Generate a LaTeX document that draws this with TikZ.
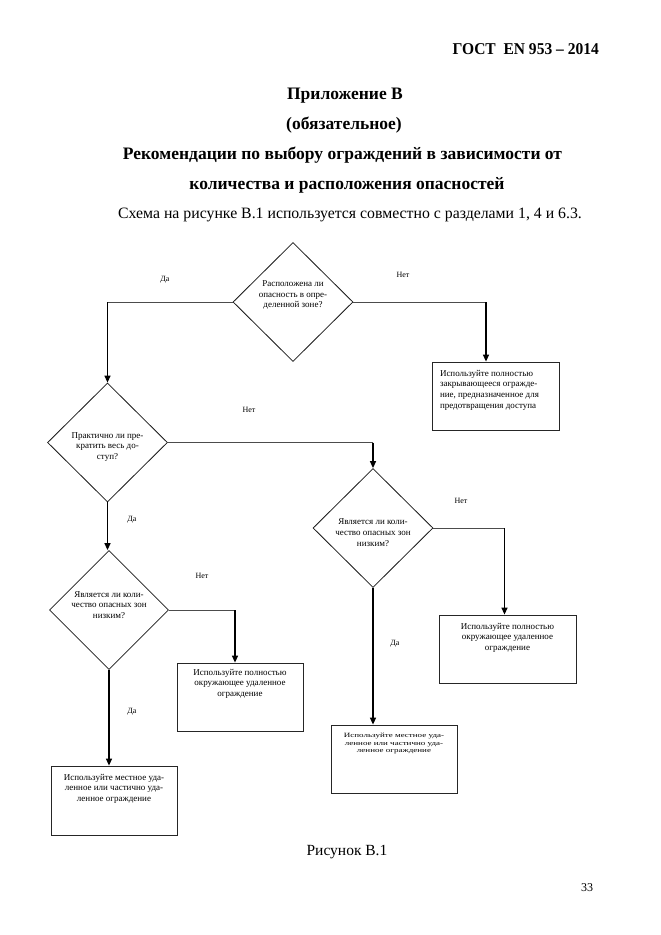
\documentclass[tikz,border=0pt]{standalone}
\usepackage{fontspec}
\usepackage{graphicx}
\setmainfont{Liberation Serif}
\usetikzlibrary{shapes.geometric,arrows.meta}
\newcommand{\dtxt}[3]{\parbox{80pt}{\centering\vspace*{#1}#3\par\vspace*{#2}}}
\begin{document}
\begin{tikzpicture}[x=1pt,y=-1pt,
  dia/.style={draw=black!90, line width=0.8pt, diamond, inner sep=-15pt,
    font=\fontsize{9}{10.7}\selectfont},
  box/.style={draw=black!85, line width=0.8pt, rectangle, inner sep=0pt,
    font=\fontsize{9}{10.7}\selectfont},
  hline/.style={draw=black!70, line width=0.9pt},
  vline/.style={draw=black, line width=1.3pt, -{Triangle[length=7pt,width=6pt]}},
  lbl/.style={font=\fontsize{8}{10}\selectfont, inner sep=0pt},
  ttl/.style={font=\fontsize{17.5}{20}\selectfont\bfseries, inner sep=0pt, anchor=base}]
\useasboundingbox (0,0) rectangle (661,935);
\fill[white] (0,0) rectangle (661,935);

% headings
\node[font=\fontsize{16.5}{20}\selectfont\bfseries, inner sep=0pt, anchor=base east] (hdr) at (599,54)
  {\scalebox{0.94}[1]{ГОСТ\ \ EN 953 -- 2014}};
\node[ttl] (t1) at (345,99) {Приложение В};
\node[ttl] (t2) at (344,129) {(обязательное)};
\node[ttl] (t3) at (342.5,159) {Рекомендации по выбору ограждений в зависимости от};
\node[ttl] (t4) at (347,189) {количества и расположения опасностей};
\node[font=\fontsize{15.8}{18}\selectfont, inner sep=0pt, anchor=base] (t5) at (350,218)
  {Схема на рисунке В.1 используется совместно с разделами 1, 4 и 6.3.};

% decisions
\node[dia, minimum width=120pt, minimum height=119pt] (d1) at (293,302)
  {\dtxt{0pt}{14pt}{Расположена ли\\опасность в опре-\\деленной зоне?}};
\node[dia, minimum width=120pt, minimum height=119pt] (d2) at (107.5,442.5)
  {\dtxt{9pt}{0pt}{Практично ли пре-\\кратить весь до-\\ступ?}};
\node[dia, minimum width=120pt, minimum height=119pt] (d3) at (373,528)
  {\dtxt{9pt}{0pt}{Является ли коли-\\чество опасных зон\\низким?}};
\node[dia, minimum width=119pt, minimum height=119pt] (d4) at (109,610)
  {\dtxt{0pt}{10pt}{Является ли коли-\\чество опасных зон\\низким?}};

% boxes
\node[box] (b1) at (495.5,396) {\parbox[c][68pt][t]{127pt}{\vspace*{8pt}\raggedright\leftskip=8pt
  Используйте полностью\\закрывающееся огражде-\\ние, предназначенное для\\предотвращения доступа}};
\node[box] (b2) at (240,697) {\parbox[c][68pt][t]{126pt}{\vspace*{6pt}\centering
  Используйте полностью\\окружающее удаленное\\ограждение}};
\node[box] (b3) at (507.5,649) {\parbox[c][68pt][t]{137pt}{\vspace*{8pt}\centering
  Используйте полностью\\окружающее удаленное\\ограждение}};
\node[box] (b4) at (394,759) {\parbox[c][68pt][t]{126pt}{\vspace*{8pt}\centering
  \scalebox{1}[0.72]{\parbox[t]{126pt}{\centering Используйте местное уда-\\ленное или частично уда-\\ленное ограждение}}}};
\node[box] (b5) at (114,800.5) {\parbox[c][69pt][t]{126pt}{\vspace*{8pt}\centering
  Используйте местное уда-\\ленное или частично уда-\\ленное ограждение}};

% connectors
\coordinate (c1) at (d1.west -| d2.north);
\draw[hline] (d1.west) -- (c1);
\draw[vline] (c1) -- (d2.north);
\coordinate (c2) at ([xshift=-9.5pt]b1.north |- d1.east);
\draw[hline] (d1.east) -- (c2);
\draw[vline] (c2) -- (c2 |- b1.north);
\coordinate (c3) at (d3.north |- d2.east);
\draw[hline] (d2.east) -- (c3);
\draw[vline] (c3) -- (d3.north);
\draw[vline] (d2.south) -- (d2.south |- d4.north);
\coordinate (c4) at ([xshift=-3pt]b3.north |- d3.east);
\draw[hline] (d3.east) -- (c4);
\draw[vline] (c4) -- (c4 |- b3.north);
\draw[vline] (d3.south) -- (d3.south |- b4.north);
\coordinate (c5) at ([xshift=-5pt]b2.north |- d4.east);
\draw[hline] (d4.east) -- (c5);
\draw[vline] (c5) -- (c5 |- b2.north);
\draw[vline] (d4.south) -- (d4.south |- b5.north);

% labels
\node[lbl] (l1) at (165,280) {Да};
\node[lbl] (l2) at (403,275) {Нет};
\node[lbl] (l3) at (249,410) {Нет};
\node[lbl] (l4) at (132,520) {Да};
\node[lbl] (l5) at (461,501) {Нет};
\node[lbl] (l6) at (395,644) {Да};
\node[lbl] (l7) at (202,576) {Нет};
\node[lbl] (l8) at (132,712) {Да};

% footer
\node[font=\fontsize{15.5}{18}\selectfont, inner sep=0pt] (cap) at (347,852) {Рисунок В.1};
\node[font=\fontsize{12}{14}\selectfont, inner sep=0pt] (pg) at (587,888) {33};
\end{tikzpicture}
\end{document}
